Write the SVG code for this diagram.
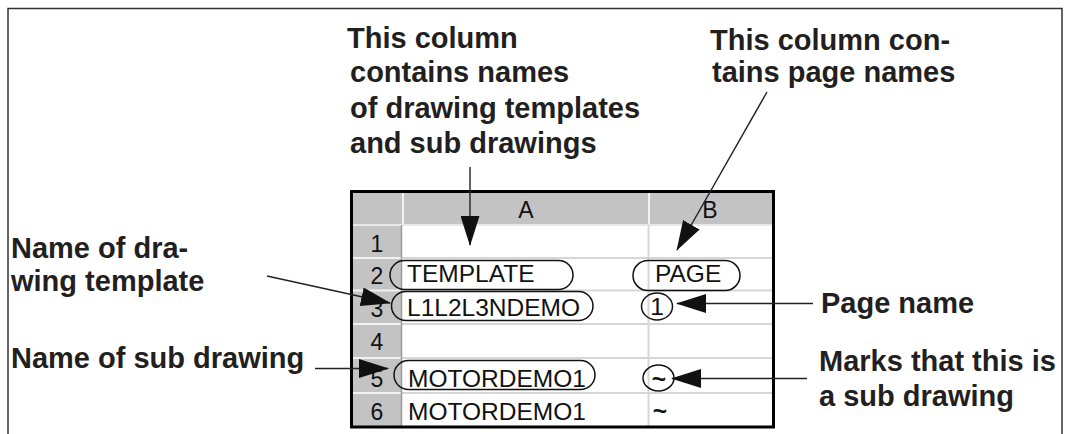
<svg xmlns="http://www.w3.org/2000/svg" width="1069" height="434" viewBox="0 0 1069 434">
<style>
.lbl{font-family:"Liberation Sans",Arial,sans-serif;font-weight:bold;font-size:29px;fill:#231f20}
.cell{font-family:"Liberation Sans",Arial,sans-serif;font-size:24.5px;fill:#111}
.hdr{font-family:"Liberation Sans",Arial,sans-serif;font-size:23px;fill:#111;text-anchor:middle}
.oval{fill:none;stroke:#111;stroke-width:1.5}
.conn{fill:none;stroke:#222;stroke-width:1.4}
.grid{stroke:#d6d6d6;stroke-width:2}
.hl{stroke:#f2f2f2;stroke-width:2}
</style>
<defs>
<marker id="ah" viewBox="0 0 30 19" refX="29" refY="9.5" markerWidth="30" markerHeight="19" markerUnits="userSpaceOnUse" orient="auto">
<path d="M0,0 L30,9.5 L0,19 z" fill="#111"/>
</marker>
</defs>
<rect width="1069" height="434" fill="#fff"/>
<path id="frame" d="M8,434 V8.5 H1062 V434" fill="none" stroke="#333" stroke-width="1.5"/>

<g id="sheet">
<rect x="353" y="193" width="419" height="233" fill="#fff"/>
<rect x="353" y="193" width="419" height="32" fill="#c3c3c3"/>
<rect x="353" y="225" width="49" height="201" fill="#c3c3c3"/>
<line class="hl" x1="403" y1="193" x2="403" y2="225"/>
<line class="hl" x1="649" y1="193" x2="649" y2="225"/>
<line x1="353" y1="225" x2="772" y2="225" stroke="#e8e8e8" stroke-width="2"/>
<g class="hl">
<line x1="353" y1="258" x2="402" y2="258"/>
<line x1="353" y1="290.5" x2="402" y2="290.5"/>
<line x1="353" y1="324" x2="402" y2="324"/>
<line x1="353" y1="358" x2="402" y2="358"/>
<line x1="353" y1="393" x2="402" y2="393"/>
</g>
<g class="grid">
<line x1="402" y1="258" x2="772" y2="258"/>
<line x1="402" y1="290.5" x2="772" y2="290.5"/>
<line x1="402" y1="324" x2="772" y2="324"/>
<line x1="402" y1="358" x2="772" y2="358"/>
<line x1="402" y1="393" x2="772" y2="393"/>
<line x1="648.5" y1="225" x2="648.5" y2="426"/>
</g>
<line x1="401.5" y1="225" x2="401.5" y2="426" stroke="#9a9a9a" stroke-width="1.5"/>
<rect x="351.5" y="191.5" width="422" height="235.5" fill="none" stroke="#000" stroke-width="3"/>
<text class="hdr" x="526" y="218">A</text>
<text class="hdr" x="710" y="218">B</text>
<g class="hdr">
<text x="377" y="252">1</text>
<text x="377" y="284">2</text>
<text x="377" y="317">3</text>
<text x="377" y="350">4</text>
<text x="377" y="387">5</text>
<text x="377" y="420">6</text>
</g>
<text class="cell" x="407" y="282">TEMPLATE</text>
<text class="cell" x="407" y="316">L1L2L3NDEMO</text>
<text class="cell" x="408" y="387">MOTORDEMO1</text>
<text class="cell" x="408" y="420">MOTORDEMO1</text>
<text class="cell" x="655" y="282">PAGE</text>
<text class="cell" x="657" y="315" text-anchor="middle">1</text>
<text class="cell" x="659" y="387" text-anchor="middle" font-weight="bold" font-size="20">~</text>
<text class="cell" x="660" y="419" text-anchor="middle" font-weight="bold" font-size="20">~</text>
</g>

<g id="marks">
<rect class="oval" x="390" y="260.5" width="183" height="29" rx="14.5"/>
<rect class="oval" x="391.5" y="291.5" width="201.5" height="29" rx="14.5"/>
<rect class="oval" x="394" y="360.5" width="201" height="29" rx="14.5"/>
<rect class="oval" x="633" y="260.5" width="107" height="30" rx="15"/>
<ellipse class="oval" cx="657" cy="306.5" rx="15.5" ry="13.5"/>
<ellipse class="oval" cx="658.5" cy="378" rx="15.5" ry="13"/>
</g>

<g id="label-col-a">
<text class="lbl" x="347" y="48">This column</text>
<text class="lbl" x="350" y="82">contains names</text>
<text class="lbl" x="350" y="118">of drawing templates</text>
<text class="lbl" x="350" y="153">and sub drawings</text>
</g>
<g id="label-col-b">
<text class="lbl" x="710" y="50">This column con-</text>
<text class="lbl" x="712" y="82">tains page names</text>
</g>
<g id="label-template">
<text class="lbl" x="11" y="258">Name of dra-</text>
<text class="lbl" x="11" y="291">wing template</text>
</g>
<g id="label-sub">
<text class="lbl" x="11" y="368">Name of sub drawing</text>
</g>
<g id="label-page">
<text class="lbl" x="821" y="313">Page name</text>
</g>
<g id="label-marks">
<text class="lbl" x="819" y="371">Marks that this is</text>
<text class="lbl" x="819" y="406">a sub drawing</text>
</g>

<g id="connectors">
<line class="conn" x1="470" y1="167" x2="470" y2="245" marker-end="url(#ah)"/>
<line class="conn" x1="767" y1="92" x2="677" y2="250" marker-end="url(#ah)"/>
<line class="conn" x1="267" y1="276" x2="390" y2="303" marker-end="url(#ah)"/>
<line class="conn" x1="315" y1="368.5" x2="388" y2="368.5" marker-end="url(#ah)"/>
<line class="conn" x1="813" y1="303.5" x2="677" y2="303.5" marker-end="url(#ah)"/>
<line class="conn" x1="807" y1="378.5" x2="672" y2="378.5" marker-end="url(#ah)" stroke="#555"/>
</g>
</svg>
